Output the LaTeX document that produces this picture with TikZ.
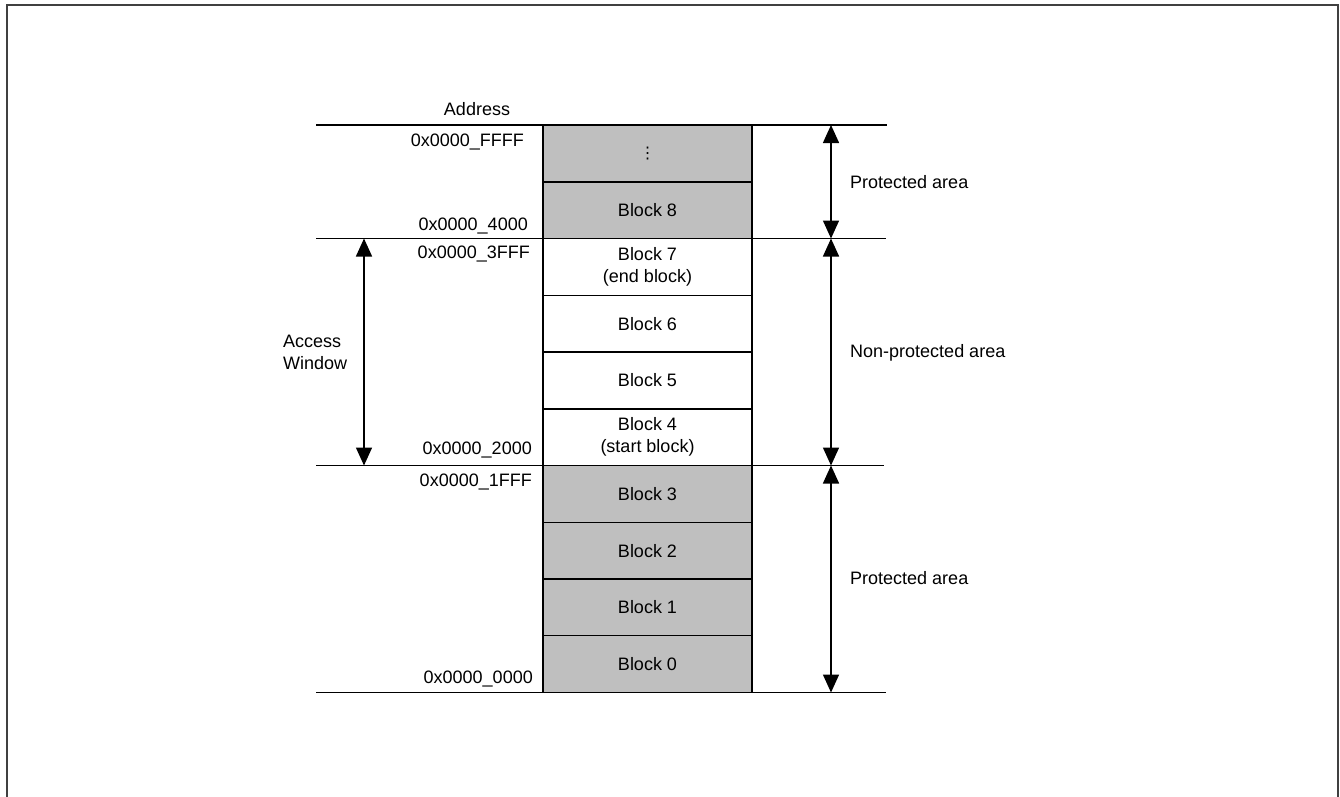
\documentclass[tikz,border=0pt]{standalone}
\usepackage{fontspec}
\setmainfont{Liberation Sans}
\newfontfamily\dejavu{DejaVu Sans}
\usetikzlibrary{arrows.meta}
\begin{document}
\begin{tikzpicture}[x=1pt,y=-1pt,
  every node/.style={font=\fontsize{18}{22}\selectfont, inner sep=0pt},
  blk/.style={draw=black, line width=1.5pt, minimum width=209pt, minimum height=56.7pt, align=center},
  prot/.style={blk, fill=gray!50},
  free/.style={blk, fill=white},
  addr/.style={anchor=east},
  sep/.style={line width=1.5pt},
  dim/.style={line width=1.5pt, {Triangle[width=16pt,length=18pt]}-{Triangle[width=16pt,length=18pt]}},
  lbl/.style={anchor=west, align=left}
]
\useasboundingbox (0,0) rectangle (1340,796);
\draw[line width=2pt, color=black!75] (7,797) -- (7,5) -- (1338,5) -- (1338,797);

% blocks
\node[prot] (bt) at (647.5,153.5) {\dejavu\fontsize{16}{16}\selectfont ⋮};
\node[prot] (b8) at (647.5,210.2) {Block 8};
\node[free] (b7) at (647.5,267.0) {Block 7\\(end block)};
\node[free] (b6) at (647.5,323.7) {Block 6};
\node[free] (b5) at (647.5,380.5) {Block 5};
\node[free] (b4) at (647.5,437.2) {Block 4\\(start block)};
\node[prot] (b3) at (647.5,493.9) {Block 3};
\node[prot] (b2) at (647.5,550.6) {Block 2};
\node[prot] (b1) at (647.5,607.3) {Block 1};
\node[prot] (b0) at (647.5,664.0) {Block 0};

% separator line ends
\coordinate (l1) at (316,125);   \coordinate (r1) at (887,125);
\coordinate (l2) at (316,238.5); \coordinate (r2) at (886,238.5);
\coordinate (l3) at (316,465.5); \coordinate (r3) at (884,465.5);
\coordinate (l4) at (316,692.5); \coordinate (r4) at (886,692.5);
\draw[sep] (l1) -- (r1);
\draw[sep] (l2) -- (r2);
\draw[sep] (l3) -- (r3);
\draw[sep] (l4) -- (r4);

% arrow ends
\coordinate (ra1) at (831,125);
\coordinate (ra2) at (831,238.5);
\coordinate (ra3) at (831,465.5);
\coordinate (ra4) at (831,692.5);
\coordinate (la2) at (364,238.5);
\coordinate (la3) at (364,465.5);
\draw[dim] (ra1) -- (ra2);
\draw[dim] (ra2) -- (ra3);
\draw[dim] (ra3) -- (ra4);
\draw[dim] (la2) -- (la3);

% labels
\node (address) at (477,109) {Address};
\node[addr] (aFFFF) at (524,142) {0x0000\_FFFF};
\node[addr] (a4000) at (528,226) {0x0000\_4000};
\node[addr] (a3FFF) at (530,254) {0x0000\_3FFF};
\node[addr] (a2000) at (532,450) {0x0000\_2000};
\node[addr] (a1FFF) at (532,482) {0x0000\_1FFF};
\node[addr] (a0000) at (533,679) {0x0000\_0000};

\node[lbl] (aw) at (283,352) {Access\\Window};
\node[lbl] (p1) at (850,182) {Protected area};
\node[lbl] (np) at (850,353) {Non-protected area};
\node[lbl] (p2) at (850,578) {Protected area};
\end{tikzpicture}
\end{document}
